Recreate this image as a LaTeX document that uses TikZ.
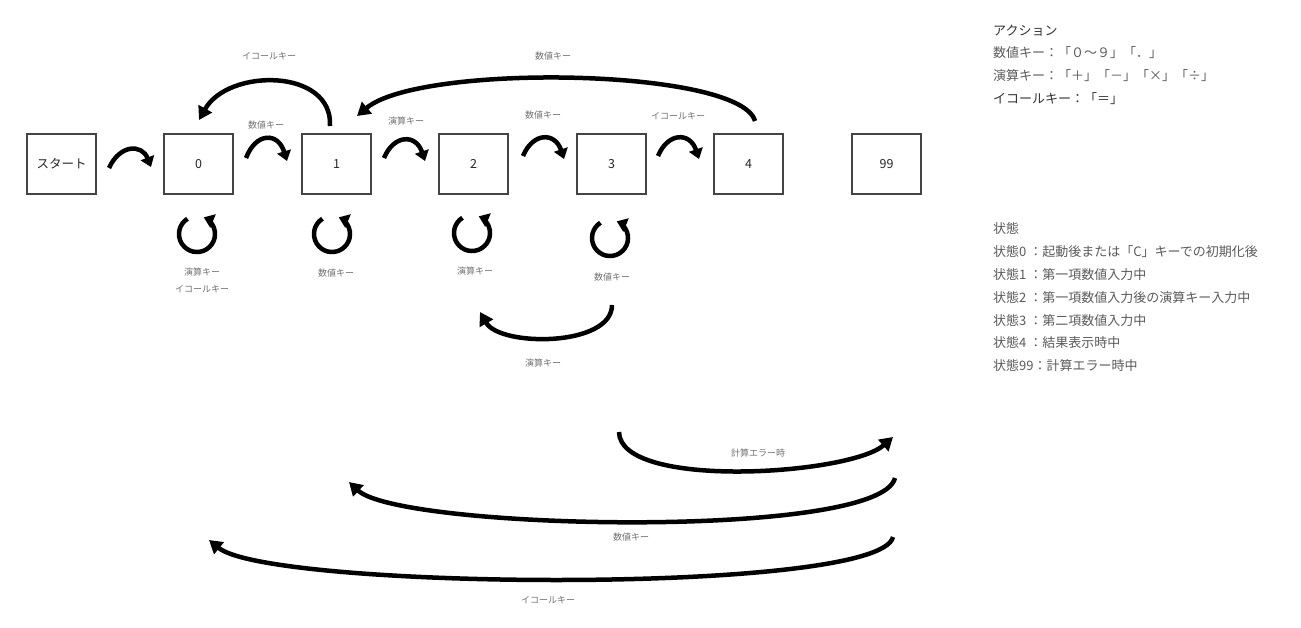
\documentclass[tikz,border=0pt]{standalone}
\usepackage{fontspec}
\setmainfont{Noto Sans CJK JP}
\usetikzlibrary{arrows.meta}
\definecolor{lbl}{HTML}{707070}
\definecolor{leg}{HTML}{5A5A5A}
\definecolor{legd}{HTML}{333333}
\definecolor{bord}{HTML}{444444}
\tikzset{
  statebox/.style={draw=bord, line width=1.2pt, minimum width=69pt, minimum height=60pt, inner sep=0pt, font=\fontsize{12.5}{14}\selectfont, text=black!85},
  lab/.style={font=\fontsize{9}{10}\selectfont, text=lbl, inner sep=0pt},
  legtxt/.style={font=\fontsize{13}{15}\selectfont, text=leg, anchor=west, inner sep=0pt},
  bigarrow/.style={line width=4.5pt, -{Triangle[length=13pt,width=15pt]}},
  smallarrow/.style={line width=4.5pt, -{Triangle[length=10pt,width=14pt]}},
  looparrow/.style={line width=4.5pt, -{Triangle[length=10pt,width=14pt]}},
}
\begin{document}
\begin{tikzpicture}[x=1pt,y=1pt]
\useasboundingbox (0,0) rectangle (1301,-627);
% state boxes
\node[statebox] (s)   at (61.5,-164)  {スタート};
\node[statebox] (n0)  at (198.5,-164) {0};
\node[statebox] (n1)  at (336.5,-164) {1};
\node[statebox] (n2)  at (473.5,-164) {2};
\node[statebox] (n3)  at (611.5,-164) {3};
\node[statebox] (n4)  at (748.5,-164) {4};
\node[statebox] (n99) at (886.5,-164) {99};
% small forward arrows
\draw[smallarrow] (109,-168) .. controls (120,-144) and (142,-144) .. (151,-167);
\draw[smallarrow] (246,-158) .. controls (256,-132) and (278,-132) .. (287,-161);
\draw[smallarrow] (384,-158) .. controls (394,-134) and (416,-134) .. (425,-161);
\draw[smallarrow] (523,-156) .. controls (533,-132) and (555,-132) .. (564,-159);
\draw[smallarrow] (658,-156) .. controls (668,-132) and (690,-132) .. (699,-159);
% labels of small arrows
\node[lab] at (266,-125) {数値キー};
\node[lab] at (406,-121) {演算キー};
\node[lab] at (543,-115) {数値キー};
\node[lab] at (678,-116) {イコールキー};
% self loops
\draw[looparrow] (197,-234) ++(122:18) arc[start angle=122, end angle=428, radius=18];
\draw[looparrow] (332,-234) ++(122:18) arc[start angle=122, end angle=428, radius=18];
\draw[looparrow] (472,-233) ++(122:18) arc[start angle=122, end angle=428, radius=18];
\draw[looparrow] (610,-238) ++(122:18) arc[start angle=122, end angle=428, radius=18];
\node[lab] at (202,-272) {演算キー};
\node[lab] at (202,-289) {イコールキー};
\node[lab] at (336,-273) {数値キー};
\node[lab] at (475,-271) {演算キー};
\node[lab] at (612,-277) {数値キー};
% top big arrows
\draw[bigarrow] (330,-126) .. controls (333,-68) and (228,-68) .. (199,-120);
\node[lab] at (269,-56) {イコールキー};
\draw[bigarrow] (755,-121) .. controls (740,-68) and (420,-63) .. (357,-116);
\node[lab] at (553,-56) {数値キー};
% lower arrows
\draw[bigarrow] (612,-305) .. controls (612,-347) and (500,-347) .. (480,-312);
\node[lab] at (543,-363) {演算キー};
\draw[bigarrow] (619,-432) .. controls (620,-490) and (850,-475) .. (893,-437);
\node[lab] at (758,-453) {計算エラー時};
\draw[bigarrow] (895,-478) .. controls (880,-540) and (400,-530) .. (349,-482);
\node[lab] at (631,-537) {数値キー};
\draw[bigarrow] (893,-537) .. controls (880,-595) and (270,-590) .. (209,-540);
\node[lab] at (548,-600) {イコールキー};
% legend
\node[legtxt, text=legd] (a0) at (993,-31) {アクション};
\node[legtxt] (a1) at (993,-53) {数値キー：「０～９」「．」};
\node[legtxt] (a2) at (993,-76) {演算キー：「＋」「－」「×」「÷」};
\node[legtxt, text=legd] (a3) at (993,-99) {イコールキー：「＝」};
\node[legtxt] (b0) at (993,-229) {状態};
\node[legtxt] (b1) at (993,-252) {状態0 ：起動後または「C」キーでの初期化後};
\node[legtxt] (b2) at (993,-275) {状態1 ：第一項数値入力中};
\node[legtxt] (b3) at (993,-298) {状態2 ：第一項数値入力後の演算キー入力中};
\node[legtxt] (b4) at (993,-321) {状態3 ：第二項数値入力中};
\node[legtxt] (b5) at (993,-343) {状態4 ：結果表示時中};
\node[legtxt] (b6) at (993,-366) {状態99：計算エラー時中};
\end{tikzpicture}
\end{document}
